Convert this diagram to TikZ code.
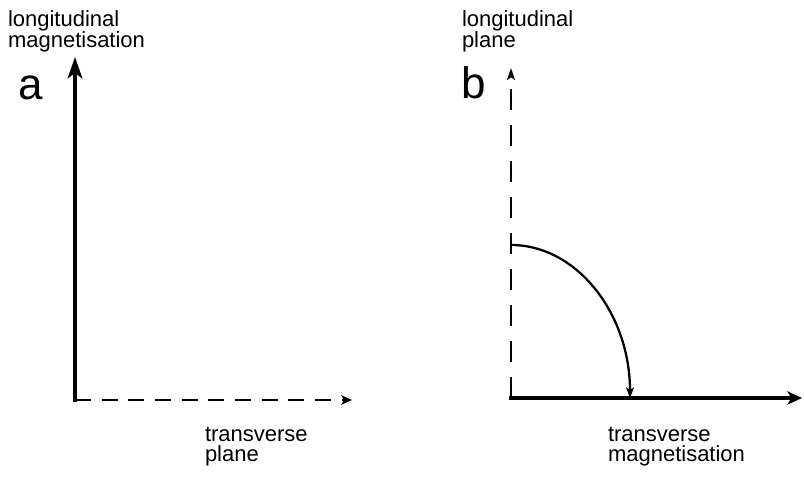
\documentclass[tikz,border=0pt]{standalone}
\usepackage{fontspec}
\setmainfont{Liberation Sans}
\usetikzlibrary{arrows.meta}
\begin{document}
\begin{tikzpicture}[x=0.75pt,y=-0.75pt,
  lbl/.style={inner sep=0pt,outer sep=0pt,align=left,anchor=north west,
    font=\fontsize{16.5}{15.5}\selectfont},
  big/.style={inner sep=0pt,outer sep=0pt,anchor=base west,
    font=\fontsize{33}{33}\selectfont},
  thickax/.style={line width=2.6pt,-{Stealth[length=16pt,width=11pt,inset=4pt]}},
  thickaxb/.style={line width=2.6pt,-{Stealth[length=11pt,width=10pt,inset=3pt]}},
  dashaxa/.style={line width=1.9pt,dash pattern=on 12pt off 8pt,
    -{Stealth[length=8pt,width=7pt,inset=2pt]}},
  dashaxb/.style={line width=1.6pt,dash pattern=on 16pt off 11pt,
    -{Stealth[length=9pt,width=6pt,inset=2pt]}},
  curv/.style={line width=1.7pt,-{Stealth[length=8pt,width=6pt,inset=2pt]}}]
\useasboundingbox (0,0) rectangle (804,481);
% panel a
\coordinate (ao) at (75,400);
\coordinate (ay) at (75,57);
\coordinate (ax) at (352,400);
\draw[thickax,line cap=rect] (ao) -- (ay);
\draw[dashaxa] (ao) -- (ax);
\node[lbl] (la) at (8,11) {longitudinal\\magnetisation};
\node[big] (a) at (18,100) {a};
\node[lbl] (ta) at (205,427) {transverse\\plane};
% panel b
\coordinate (bo) at (511,398);
\coordinate (by) at (511,68);
\coordinate (bx) at (802,398);
\coordinate (bs) at (511,245);
\coordinate (be) at (630,398);
\draw[dashaxb] (bo) -- (by);
\draw[thickaxb,line cap=rect] (bo) -- (bx);
\draw[curv] (bs) .. controls (576.7,245) and (630,313.5) .. (be);
\node[lbl] (lb) at (462,11) {longitudinal\\plane};
\node[big] (b) at (461,99) {b};
\node[lbl] (tb) at (608,427) {transverse\\magnetisation};
\end{tikzpicture}
\end{document}
